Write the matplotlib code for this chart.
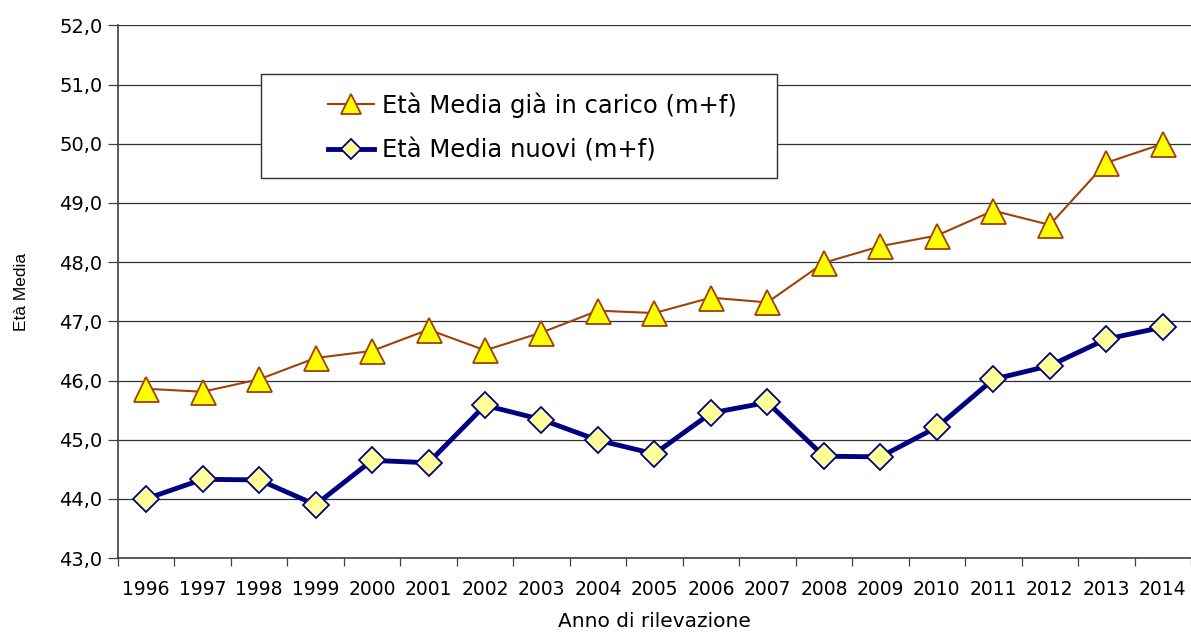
import numpy as np
import matplotlib
matplotlib.use("Agg")
import matplotlib.pyplot as plt
from matplotlib.patches import Rectangle
from matplotlib.ticker import FuncFormatter

plt.rcParams['font.family'] = ['DejaVu Sans']

years = [str(y) for y in range(1996, 2015)]
carico = [45.86, 45.81, 46.02, 46.38, 46.50, 46.86, 46.51, 46.81, 47.18, 47.14,
          47.40, 47.32, 47.99, 48.27, 48.45, 48.87, 48.63, 49.68, 50.00]
nuovi = [44.00, 44.33, 44.32, 43.90, 44.65, 44.61, 45.58, 45.34, 44.99, 44.76,
         45.45, 45.63, 44.72, 44.71, 45.21, 46.02, 46.25, 46.70, 46.90]

fig = plt.figure(figsize=(11.91, 6.37), dpi=100)
ax = fig.add_axes([0.099, 0.124, 0.901, 0.836])

x = np.arange(len(years))
ax.plot(x, carico, color='#A0400A', lw=1.5, marker='^', ms=18,
        mfc='#FFFF00', mec='#A0400A', mew=1.3, label='Età Media già in carico (m+f)', zorder=3)
ax.plot(x, nuovi, color='#000080', lw=3.5, marker='D', ms=13,
        mfc='#FFFF99', mec='#000080', mew=1.3, label='Età Media nuovi (m+f)', zorder=3)

ax.set_xlim(-0.5, len(years) - 0.5)
ax.set_ylim(43, 52)
ax.set_yticks(np.arange(43, 52.1, 1))
ax.yaxis.set_major_formatter(FuncFormatter(lambda v, p: f"{v:.1f}".replace('.', ',')))
ax.grid(axis='y', color='#303030', lw=0.9)
ax.set_axisbelow(True)

# category axis: ticks between categories, labels centred
ax.set_xticks(np.arange(len(years) + 1) - 0.5)
ax.set_xticklabels([])
ax.set_xticks(x, minor=True)
ax.set_xticklabels(years, minor=True, fontsize=13.5)
ax.tick_params(axis='x', which='minor', length=0, pad=16)
ax.tick_params(axis='x', which='major', length=6, width=0.9, color='#404040')
ax.tick_params(axis='y', length=7, width=0.9, color='#404040', labelsize=14, pad=4)

for s in ['top', 'right']:
    ax.spines[s].set_visible(False)
for s in ['left', 'bottom']:
    ax.spines[s].set_color('#404040')
    ax.spines[s].set_linewidth(1.2)

ax.set_ylabel('Età Media', fontsize=12.5, family='Liberation Sans', labelpad=22)
ax.set_xlabel('Anno di rilevazione', fontsize=14.5, labelpad=9)

# legend box drawn separately, entries placed inside
ax.add_patch(Rectangle((0.1333, 0.7136), 0.481, 0.195, transform=ax.transAxes,
                       facecolor='white', edgecolor='#303030', lw=1.0, zorder=4))
leg = ax.legend(loc='center left', bbox_to_anchor=(0.196, 0.809), frameon=False,
                fontsize=17.5, borderpad=0, borderaxespad=0, handlelength=1.9,
                handletextpad=0.3, labelspacing=0.85, markerscale=0.78)
leg.set_zorder(5)

fig.savefig('out.png', dpi=100)
